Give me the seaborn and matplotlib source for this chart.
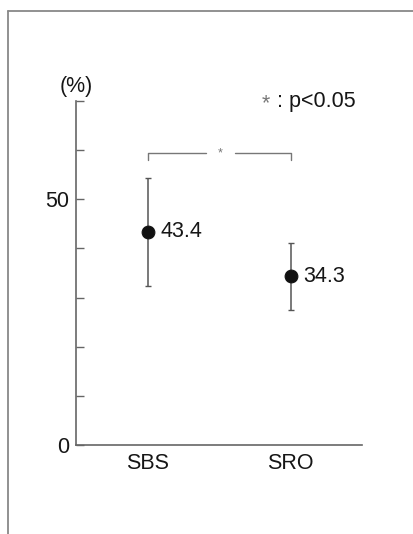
import numpy as np
import pandas as pd
import seaborn as sns
import matplotlib.pyplot as plt
from matplotlib.lines import Line2D

# Data
groups = ['SBS', 'SRO']
means = [43.4, 34.3]
sds = [11.0, 6.9]
y_ticks = [0, 10, 20, 30, 40, 50, 60, 70]
y_tick_labels = ['0', '', '', '', '', '50', '', '']

sns.set_style('white')
plt.rcParams['font.family'] = ['Liberation Sans', 'DejaVu Sans']

df = pd.DataFrame({'group': groups, 'mean': means, 'sd': sds})
df['x'] = np.arange(len(df))

fig = plt.figure(figsize=(4.14, 5.34), dpi=100)
ax = fig.add_axes([0.1836, 0.1667, 0.6908, 0.6442])

axis_col = '#666666'
txt_col = '#161616'
fs = 15.5

# error bars then points
ax.errorbar(df['x'], df['mean'], yerr=df['sd'], fmt='none',
            ecolor='#555555', elinewidth=1.1, capsize=2.5, capthick=1.0)
sns.scatterplot(data=df, x='x', y='mean', ax=ax, color='#111111',
                s=85, edgecolor='#111111', zorder=3, legend=False)

for _, row in df.iterrows():
    ax.text(row['x'] + 0.09, row['mean'], f"{row['mean']:.1f}",
            va='center', ha='left', fontsize=fs, color=txt_col)

# significance bracket
br_y, br_low = 59.4, 58.0
ax.plot([0, 0, 0.41], [br_low, br_y, br_y], color='#777777', lw=1.0)
ax.plot([0.615, 1, 1], [br_y, br_y, br_low], color='#777777', lw=1.0)
ax.text(0.51, br_y, '*', ha='center', va='center', fontsize=9, color='#777777')

ax.text(0.80, 69.4, '*', ha='left', va='center', fontsize=fs, color='#777777')
ax.text(0.905, 69.9, ': p<0.05', ha='left', va='center',
        fontsize=fs, color=txt_col)
ax.text(-0.5, 72.85, '(%)', ha='center', va='center',
        fontsize=fs, color=txt_col, clip_on=False)

ax.set_xlim(-0.5, 1.5)
ax.set_ylim(0, 70)
ax.set_xticks(df['x'])
ax.set_xticklabels(groups)
ax.set_yticks(y_ticks)
ax.set_yticklabels(y_tick_labels)
ax.set_xlabel('')
ax.set_ylabel('')
ax.tick_params(axis='y', direction='in', length=6, width=1, color=axis_col,
               labelsize=fs, labelcolor=txt_col, pad=5, left=True)
ax.tick_params(axis='x', length=0, labelsize=fs, labelcolor=txt_col, pad=6)
for side in ['top', 'right']:
    ax.spines[side].set_visible(False)
for side in ['left', 'bottom']:
    ax.spines[side].set_color(axis_col)
    ax.spines[side].set_linewidth(1.2)

# outer frame from the original page
fig.add_artist(Line2D([0.0205, 0.0205], [0.0, 0.9785], color='#888888', lw=1.3))
fig.add_artist(Line2D([0.0205, 1.0], [0.9785, 0.9785], color='#888888', lw=1.3))

fig.savefig('out.png', dpi=100)
